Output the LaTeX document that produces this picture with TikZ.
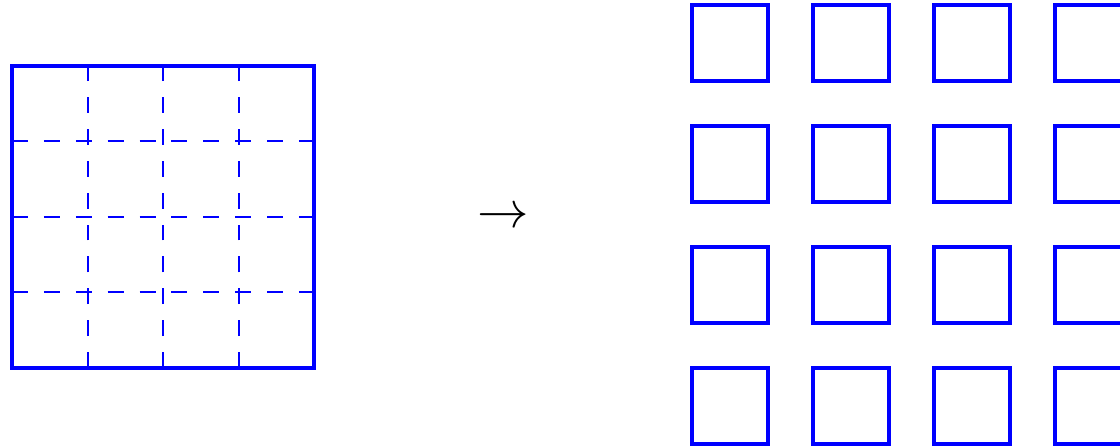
\documentclass[tikz,border=0pt]{standalone}
\usepackage{amsmath}
\usepackage{tikz}
\usetikzlibrary{positioning}
\tikzset{
  bigsq/.style={
    draw=blue,
    line width=1.5pt,
    minimum size=4cm,
    inner sep=0pt
  },
  cell/.style={
    draw=blue,
    line width=1.5pt,
    minimum size=1cm,
    inner sep=0pt
  },
  gridline/.style={
    blue,
    thick,
    dash pattern=on 6pt off 6pt
  }
}
\begin{document}
\begin{tikzpicture}
\clip (-0.159,-1.032) rectangle (14.656,4.868);
\draw[gridline,step=1cm] (0,0) grid (4,4);
\node[bigsq] (big) at (2,2) {};
\node[font=\LARGE,scale=1.12,transform shape] (to) at (6.5,1.98) {$\to$};
\foreach \i in {0,1,2,3}{
  \foreach \j in {0,1,2,3}{
    \node[cell] (c\i\j) at ({9.5+1.6*\i},{-0.5+1.6*\j}) {};
  }
}
\end{tikzpicture}
\end{document}
